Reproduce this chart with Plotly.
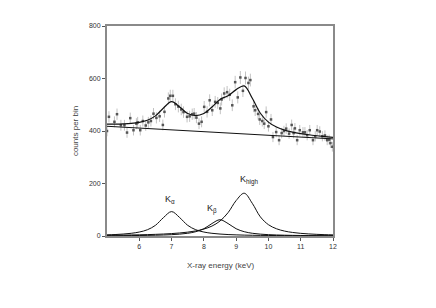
import plotly.graph_objects as go

# measured data points (keV, counts per bin)
data_x = [5.00, 5.06, 5.23, 5.31, 5.43, 5.54, 5.62, 5.72, 5.82, 5.91, 5.95, 6.03, 6.11, 6.20,
          6.28, 6.36, 6.44, 6.53, 6.63, 6.73, 6.78, 6.90, 6.96, 7.04, 7.12, 7.21, 7.30, 7.37,
          7.48, 7.56, 7.64, 7.70, 7.77, 7.85, 7.93, 8.01, 8.10, 8.18, 8.26, 8.35, 8.43, 8.51,
          8.55, 8.63, 8.72, 8.80, 8.88, 8.97, 9.05, 9.13, 9.21, 9.29, 9.38, 9.44, 9.54, 9.59,
          9.68, 9.73, 9.81, 9.87, 9.93, 10.00, 10.08, 10.14, 10.24, 10.33, 10.41, 10.48, 10.55,
          10.64, 10.72, 10.78, 10.82, 10.89, 10.97, 11.07, 11.13, 11.20, 11.28, 11.38, 11.45,
          11.51, 11.59, 11.67, 11.75, 11.82, 11.88, 11.92, 11.98]
data_y = [400, 454, 435, 464, 422, 422, 394, 449, 403, 428, 433, 403, 438, 421,
          433, 438, 466, 450, 456, 423, 473, 524, 534, 534, 502, 493, 482, 472,
          454, 456, 464, 466, 451, 428, 435, 492, 473, 517, 479, 511, 507, 486,
          520, 543, 548, 538, 498, 586, 528, 604, 553, 602, 583, 594, 494, 479,
          465, 444, 438, 428, 472, 418, 444, 377, 396, 365, 392, 400, 409,
          390, 423, 392, 410, 365, 403, 395, 395, 384, 403, 365, 380,
          403, 398, 380, 383, 365, 367, 354, 340]

# model curves sampled on a 0.25 keV grid
grid_x = [5.0, 5.25, 5.5, 5.75, 6.0, 6.25, 6.5, 6.75, 7.0, 7.25, 7.5, 7.75, 8.0, 8.25, 8.5,
          8.75, 9.0, 9.25, 9.5, 9.75, 10.0, 10.25, 10.5, 10.75, 11.0, 11.25, 11.5, 11.75, 12.0]
k_alpha = [4.3, 5.5, 7.4, 10.3, 15.1, 23.8, 40.6, 70.3, 93.0, 70.3, 40.6, 23.8, 15.1, 10.3, 7.4,
           5.5, 4.3, 3.4, 2.8, 2.3, 2.0, 1.7, 1.45, 1.26, 1.11, 0.99, 0.88, 0.79, 0.72]
k_beta = [1.0, 1.17, 1.37, 1.62, 1.95, 2.38, 2.99, 3.85, 5.12, 7.1, 10.4, 16.4, 27.7, 47.4, 62.0,
          47.4, 27.7, 16.4, 10.4, 7.1, 5.1, 3.85, 3.0, 2.4, 1.95, 1.6, 1.37, 1.17, 1.0]
k_high = [2.7, 3.0, 3.4, 3.9, 4.5, 5.3, 6.3, 7.5, 9.2, 11.5, 14.7, 19.3, 26.4, 37.8, 57.0,
          89.0, 135.0, 163.0, 124.5, 72.9, 43.1, 27.5, 18.7, 13.5, 10.1, 7.9, 6.3, 5.1, 4.3]
total_fit = [426.0, 426.0, 426.8, 428.7, 432.7, 440.9, 457.6, 487.7, 511.6, 491.5, 466.6, 458.6,
             466.6, 491.2, 520.4, 534.2, 557.6, 571.7, 524.8, 467.7, 433.9, 415.1, 403.5, 395.8,
             390.1, 385.6, 382.0, 378.8, 376.0]
bg_x = [5.0, 12.0]
bg_y = [418, 370]

fig = go.Figure()
fig.add_trace(go.Scatter(
    x=data_x, y=data_y, mode="markers",
    marker=dict(size=2.5, color="#555555", symbol="square"),
    error_y=dict(type="sqrt", color="#c2c2c2", thickness=1, width=0),
    showlegend=False))
for comp in (k_alpha, k_beta, k_high):
    fig.add_trace(go.Scatter(x=grid_x, y=comp, mode="lines",
                             line=dict(color="#111111", width=1, shape="spline"),
                             showlegend=False))
fig.add_trace(go.Scatter(x=bg_x, y=bg_y, mode="lines",
                         line=dict(color="#111111", width=1), showlegend=False))
fig.add_trace(go.Scatter(x=grid_x, y=total_fit, mode="lines",
                         line=dict(color="#111111", width=1.2, shape="spline"),
                         showlegend=False))

font = "Liberation Sans, Arial, sans-serif"
fig.update_layout(
    width=436, height=308,
    margin=dict(l=99, r=111, t=18, b=80),
    paper_bgcolor="white", plot_bgcolor="white",
    font=dict(family=font, size=7, color="#333333"),
    xaxis=dict(range=[5, 12], tickvals=[6, 7, 8, 9, 10, 11, 12], ticks="outside",
               ticklen=3, tickcolor="#555555", showgrid=False, zeroline=False,
               showline=True, linecolor="#8a8a8a", linewidth=1.5, mirror=True,
               tickfont=dict(size=7, color="#333333")),
    yaxis=dict(range=[0, 800], tickvals=[0, 200, 400, 600, 800], ticks="outside",
               ticklen=3, tickcolor="#555555", showgrid=False, zeroline=False,
               showline=True, linecolor="#8a8a8a", linewidth=2, mirror=True,
               tickfont=dict(size=7, color="#333333")),
    annotations=[
        dict(text="counts per bin", x=-0.17, y=0.5, xref="paper", yref="paper",
             textangle=-90, showarrow=False, font=dict(size=8, color="#444444")),
        dict(text="X-ray energy (keV)", x=0.5, y=-0.17, xref="paper", yref="paper",
             showarrow=False, font=dict(size=8, color="#444444")),
        dict(text="K<sub>α</sub>", x=6.95, y=140, showarrow=False,
             font=dict(size=9, color="#222222")),
        dict(text="K<sub>β</sub>", x=8.25, y=102, showarrow=False,
             font=dict(size=9, color="#222222")),
        dict(text="K<sub>high</sub>", x=9.4, y=214, showarrow=False,
             font=dict(size=9, color="#222222")),
    ],
)
fig.write_html("out.html")
